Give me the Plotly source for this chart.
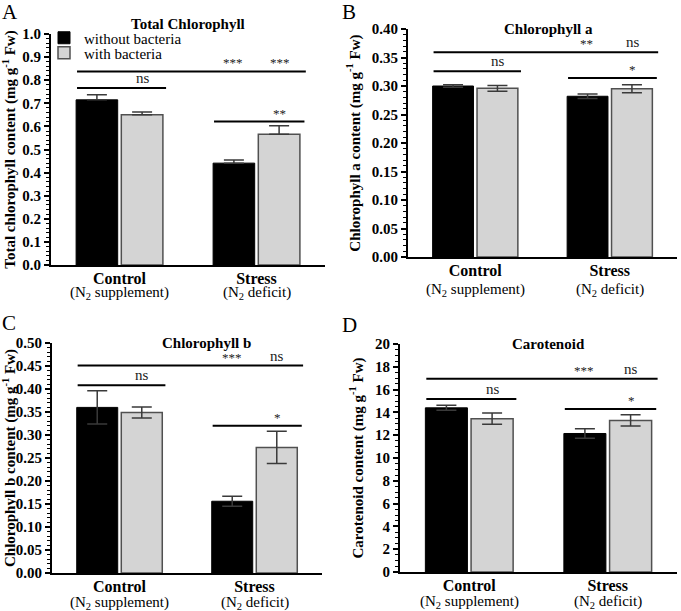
import plotly.graph_objects as go

FONT = "Liberation Serif"

categories = ["Control", "Stress"]
tick_labels = ["<b>Control</b>", "<b>Stress</b>"]
tick_sublabels = ["(N<sub>2</sub> supplement)", "(N<sub>2</sub> deficit)"]
series_names = ["without bacteria", "with bacteria"]

# Panel A: Total chlorophyll
total_without = [0.715, 0.441]
total_without_err = [0.022, 0.014]
total_with = [0.650, 0.566]
total_with_err = [0.012, 0.037]

# Panel B: Chlorophyll a
chla_without = [0.300, 0.282]
chla_without_err = [0.002, 0.004]
chla_with = [0.296, 0.295]
chla_with_err = [0.005, 0.007]

# Panel C: Chlorophyll b
chlb_without = [0.360, 0.156]
chlb_without_err = [0.036, 0.011]
chlb_with = [0.349, 0.273]
chlb_with_err = [0.012, 0.035]

# Panel D: Carotenoid
car_without = [14.40, 12.15]
car_without_err = [0.22, 0.42]
car_with = [13.45, 13.30]
car_with_err = [0.50, 0.50]

# significance bracket levels: (long line, left line, right line)
sig_levels_A = [0.838, 0.766, 0.621]
sig_levels_B = [0.359, 0.326, 0.314]
sig_levels_C = [0.451, 0.408, 0.320]
sig_levels_D = [16.96, 15.18, 14.30]
sig_text_A = ["***", "***", "ns", "**"]
sig_text_B = ["**", "ns", "ns", "*"]
sig_text_C = ["***", "ns", "ns", "*"]
sig_text_D = ["***", "ns", "ns", "*"]

W, H = 681, 611

def px_x(a, b):
    return [a / W, b / W]

def px_y(top, bottom):
    return [1 - bottom / H, 1 - top / H]

panels = [
    dict(key="", dom_x=px_x(51, 325), dom_y=px_y(34, 265), without=total_without, wo_err=total_without_err,
         with_=total_with, w_err=total_with_err, rng=[0, 1.0], dtick=0.1, minor=0.02, fmt=".1f",
         ytitle="Total chlorophyll content (mg g<sup>-1</sup> Fw)", title="Total Chlorophyll", title_pos=(188, 24),
         letter="A", letter_pos=(0, -2), sig=sig_levels_A, sig_text=sig_text_A, up_only=True, sub_y=293),
    dict(key="2", dom_x=px_x(408, 677), dom_y=px_y(29, 257), without=chla_without, wo_err=chla_without_err,
         with_=chla_with, w_err=chla_with_err, rng=[0, 0.40], dtick=0.05, minor=0.01, fmt=".2f",
         ytitle="Chlorophyll a content (mg g<sup>-1</sup> Fw)", title="Chlorophyll a", title_pos=(548, 29),
         letter="B", letter_pos=(340, -2), sig=sig_levels_B, sig_text=sig_text_B, up_only=False, sub_y=290),
    dict(key="3", dom_x=px_x(52, 322), dom_y=px_y(343, 573), without=chlb_without, wo_err=chlb_without_err,
         with_=chlb_with, w_err=chlb_with_err, rng=[0, 0.50], dtick=0.05, minor=0.01, fmt=".2f",
         ytitle="Chlorophyll b content (mg g<sup>-1</sup> Fw)", title="Chlorophyll b", title_pos=(207, 343),
         letter="C", letter_pos=(0, 309), sig=sig_levels_C, sig_text=sig_text_C, up_only=False, sub_y=603),
    dict(key="4", dom_x=px_x(400, 677), dom_y=px_y(344, 572), without=car_without, wo_err=car_without_err,
         with_=car_with, w_err=car_with_err, rng=[0, 20], dtick=2, minor=0.5, fmt="d",
         ytitle="Carotenoid content (mg g<sup>-1</sup> Fw)", title="Carotenoid", title_pos=(548, 344),
         letter="D", letter_pos=(340, 311), sig=sig_levels_D, sig_text=sig_text_D, up_only=False, sub_y=602),
]

fig = go.Figure()
legend_common = dict(xanchor="left", yanchor="middle", bgcolor="rgba(0,0,0,0)",
                     font=dict(family=FONT, size=15), itemwidth=30, tracegroupgap=0)
layout = dict(
    width=W, height=H, margin=dict(l=0, r=0, t=0, b=0, autoexpand=False),
    paper_bgcolor="white", plot_bgcolor="white",
    barmode="group", bargap=0.34, bargroupgap=0.08,
    font=dict(family=FONT, size=14, color="black"),
    showlegend=True,
    legend=dict(x=44 / W, y=1 - 38 / H, **legend_common),
    legend2=dict(x=44 / W, y=1 - 53 / H, **legend_common),
)
shapes = []
annotations = []

for i, p in enumerate(panels):
    k = p["key"]
    xa, ya = "x" + k, "y" + k
    def err(vals, up_only):
        d = dict(type="data", array=vals, visible=True, color="#3a3a3a", thickness=1.5, width=10)
        if up_only:
            d["symmetric"] = False
            d["arrayminus"] = [0] * len(vals)
        return d
    fig.add_trace(go.Bar(x=categories, y=p["without"], name=series_names[0], xaxis=xa, yaxis=ya,
                         marker=dict(color="black", line=dict(color="black", width=1)),
                         error_y=err(p["wo_err"], p["up_only"]), showlegend=(i == 0), legend="legend"))
    fig.add_trace(go.Bar(x=categories, y=p["with_"], name=series_names[1], xaxis=xa, yaxis=ya,
                         marker=dict(color="#d4d4d4", line=dict(color="#505050", width=1.5)),
                         error_y=err(p["w_err"], p["up_only"]), showlegend=(i == 0), legend="legend2"))
    layout["xaxis" + k] = dict(domain=p["dom_x"], anchor=ya, range=[-0.5, 1.5], showline=True,
                               linecolor="black", linewidth=2, ticks="", tickvals=categories,
                               ticktext=tick_labels, tickfont=dict(family=FONT, size=16),
                               ticklabelstandoff=-2,
                               showgrid=False, zeroline=False, fixedrange=True, automargin=False)
    layout["yaxis" + k] = dict(domain=p["dom_y"], anchor=xa, range=p["rng"], dtick=p["dtick"],
                               tickformat=p["fmt"], showline=True, linecolor="black", linewidth=2,
                               ticks="outside", ticklen=5, tickwidth=1.5, tickcolor="black",
                               minor=dict(dtick=p["minor"], ticks="outside", ticklen=3, tickwidth=1,
                                          tickcolor="black", showgrid=False),
                               showgrid=False, zeroline=False, automargin=False, fixedrange=True,
                               tickfont=dict(family=FONT, size=15, weight="bold"),
                               title=dict(text="<b>" + p["ytitle"] + "</b>", font=dict(family=FONT, size=15),
                                          standoff=8))
    lv = p["sig"]
    xref = xa
    yref = ya
    for (x0, x1, yv) in [(-0.31, 1.36, lv[0]), (-0.31, 0.34, lv[1]), (0.69, 1.35, lv[2])]:
        shapes.append(dict(type="line", xref=xref, yref=yref, x0=x0, x1=x1, y0=yv, y1=yv,
                           line=dict(color="black", width=2)))
    st = p["sig_text"]
    for (xv, yv, t) in [(0.83, lv[0], st[0]), (1.17, lv[0], st[1]), (0.17, lv[1], st[2]), (1.17, lv[2], st[3])]:
        is_star = "*" in t
        annotations.append(dict(x=xv, y=yv, xref=xref, yref=yref, text=t, showarrow=False,
                                yanchor="bottom", yshift=(-1 if is_star else 0),
                                font=dict(family=FONT, size=(13 if is_star else 15), color="#222222")))
    for ci, cat in enumerate(categories):
        annotations.append(dict(x=cat, y=1 - p["sub_y"] / H, xref=xref, yref="paper", text=tick_sublabels[ci],
                                showarrow=False, xanchor="center", yanchor="middle",
                                font=dict(family=FONT, size=15)))
    tx, ty = p["title_pos"]
    annotations.append(dict(x=tx / W, y=1 - ty / H, xref="paper", yref="paper", text="<b>" + p["title"] + "</b>",
                            showarrow=False, xanchor="center", yanchor="middle",
                            font=dict(family=FONT, size=15)))
    lx, ly = p["letter_pos"]
    annotations.append(dict(x=lx / W, y=1 - ly / H, xref="paper", yref="paper", text=p["letter"],
                            showarrow=False, xanchor="left", yanchor="top",
                            font=dict(family=FONT, size=21)))

layout["shapes"] = shapes
layout["annotations"] = annotations
fig.update_layout(**layout)
fig.write_html("out.html", config={"displayModeBar": False},
               post_script="document.body.style.margin='0';")
